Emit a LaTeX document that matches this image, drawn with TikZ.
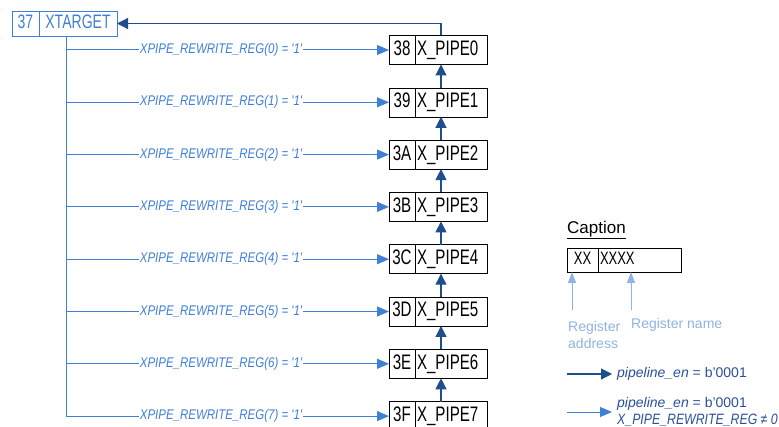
\documentclass[tikz,border=0pt]{standalone}
\usepackage{fontspec}
\setmainfont{Liberation Sans}
\newfontfamily\boxfont{Liberation Sans}[FakeStretch=0.72]
\newfontfamily\condfont{Liberation Sans}[FakeStretch=0.82]
\usetikzlibrary{arrows.meta,positioning}
\definecolor{Navy}{HTML}{1F4E8C}
\definecolor{Sky}{HTML}{3F7FD6}
\definecolor{Pale}{HTML}{8DB4E2}
\definecolor{Ink}{HTML}{2A4F9A}

\begin{document}
\begin{tikzpicture}[x=1pt,y=-1pt,
addr/.style={draw,minimum width=26pt,minimum height=29pt,inner sep=0pt,outer sep=0pt,text height=15pt,text depth=4pt,font=\boxfont\fontsize{21}{23}\selectfont},
regname/.style={draw,minimum height=29pt,text width=68pt,inner xsep=2pt,inner ysep=0pt,outer sep=0pt,align=left,text height=15pt,text depth=4pt,font=\boxfont\fontsize{21}{23}\selectfont},
cond/.style={font=\condfont\itshape\fontsize{14}{16}\selectfont,text=Sky,fill=white,inner xsep=1pt,inner ysep=0pt},
feed/.style={-{Triangle[length=11pt,width=11pt]},draw=Navy,line width=1.2pt},
sel/.style={-{Triangle[length=12pt,width=10pt]},draw=Sky,line width=1pt},
hint/.style={-{Triangle[length=11pt,width=8pt]},draw=Pale,line width=1pt},
legend/.style={anchor=west,inner sep=0pt,text=Ink,font=\fontsize{14}{17}\selectfont,align=left}]
\useasboundingbox (0,0) rectangle (779,427);
% target register
\node[addr,draw=Sky,text=Sky,minimum width=27pt,minimum height=25pt,text height=14pt,text depth=3pt,font=\boxfont\fontsize{19.5}{21}\selectfont](ta) at (25.5,23.5){37};
\node[addr,draw=Sky,text=Sky,minimum width=78pt,minimum height=25pt,text height=14pt,text depth=3pt,font=\boxfont\fontsize{19.5}{21}\selectfont,right=0pt of ta](target){XTARGET};
\coordinate (bus) at (66,0);
% pipe registers
\node[addr](a0) at (402,50){38};\node[regname,right=0pt of a0](p0){X\_PIPE0};
\node[addr](a1) at (402,102.3){39};\node[regname,right=0pt of a1](p1){X\_PIPE1};
\node[addr](a2) at (402,154.6){3A};\node[regname,right=0pt of a2](p2){X\_PIPE2};
\node[addr](a3) at (402,206.9){3B};\node[regname,right=0pt of a3](p3){X\_PIPE3};
\node[addr](a4) at (402,259.2){3C};\node[regname,right=0pt of a4](p4){X\_PIPE4};
\node[addr](a5) at (402,311.5){3D};\node[regname,right=0pt of a5](p5){X\_PIPE5};
\node[addr](a6) at (402,363.8){3E};\node[regname,right=0pt of a6](p6){X\_PIPE6};
\node[addr](a7) at (402,416.1){3F};\node[regname,right=0pt of a7](p7){X\_PIPE7};
% pipeline chain
\coordinate (up) at (441,0);
\draw[feed](up|-p1.north)--(up|-p0.south);\draw[feed](up|-p2.north)--(up|-p1.south);\draw[feed](up|-p3.north)--(up|-p2.south);\draw[feed](up|-p4.north)--(up|-p3.south);
\draw[feed](up|-p5.north)--(up|-p4.south);\draw[feed](up|-p6.north)--(up|-p5.south);\draw[feed](up|-p7.north)--(up|-p6.south);
\draw[feed](up|-p0.north) |- (target.east);
% rewrite selection
\draw[Sky,line width=1pt](bus|-target.south)--(bus|-a7.west);
\draw[sel](bus|-a0.west)--node[cond,pos=.48]{XPIPE\_REWRITE\_REG(0) = '1'}(a0.west);
\draw[sel](bus|-a1.west)--node[cond,pos=.48]{XPIPE\_REWRITE\_REG(1) = '1'}(a1.west);
\draw[sel](bus|-a2.west)--node[cond,pos=.48]{XPIPE\_REWRITE\_REG(2) = '1'}(a2.west);
\draw[sel](bus|-a3.west)--node[cond,pos=.48]{XPIPE\_REWRITE\_REG(3) = '1'}(a3.west);
\draw[sel](bus|-a4.west)--node[cond,pos=.48]{XPIPE\_REWRITE\_REG(4) = '1'}(a4.west);
\draw[sel](bus|-a5.west)--node[cond,pos=.48]{XPIPE\_REWRITE\_REG(5) = '1'}(a5.west);
\draw[sel](bus|-a6.west)--node[cond,pos=.48]{XPIPE\_REWRITE\_REG(6) = '1'}(a6.west);
\draw[sel](bus|-a7.west)--node[cond,pos=.48]{XPIPE\_REWRITE\_REG(7) = '1'}(a7.west);
% caption
\node[anchor=west,inner sep=0pt,font=\fontsize{17}{20}\selectfont](cap) at (567,230){\underline{Caption}};
\node[addr,minimum width=31pt,minimum height=24pt,text height=13pt,text depth=3pt,font=\boxfont\fontsize{18}{19}\selectfont](ca) at (582.5,260){XX};
\node[regname,minimum height=24pt,text width=79pt,text height=13pt,text depth=3pt,font=\boxfont\fontsize{18}{19}\selectfont,right=0pt of ca](cn){XXXX};
\node[legend,text=Pale](ra) at (568,335){Register\\address};
\node[legend,text=Pale](rn) at (631,325){Register name};
\coordinate (hx) at (572,310);\coordinate (hn) at (631,310);
\draw[hint](hx)--(hx|-ca.south);\draw[hint](hn)--(hn|-cn.south);
% legend
\coordinate (l1) at (567,374);\coordinate (l2) at (567,412);
\node[legend](t1) at (617,374){\textit{pipeline\_en} = b’0001};
\node[legend](t2) at (617,412){\textit{pipeline\_en} = b’0001\\{\condfont\itshape\fontsize{15}{17}\selectfont X\_PIPE\_REWRITE\_REG ≠ 0}};
\draw[feed](l1)--([xshift=-5pt]t1.west);
\draw[sel](l2)--([xshift=-5pt]t2.west);
\end{tikzpicture}
\end{document}
